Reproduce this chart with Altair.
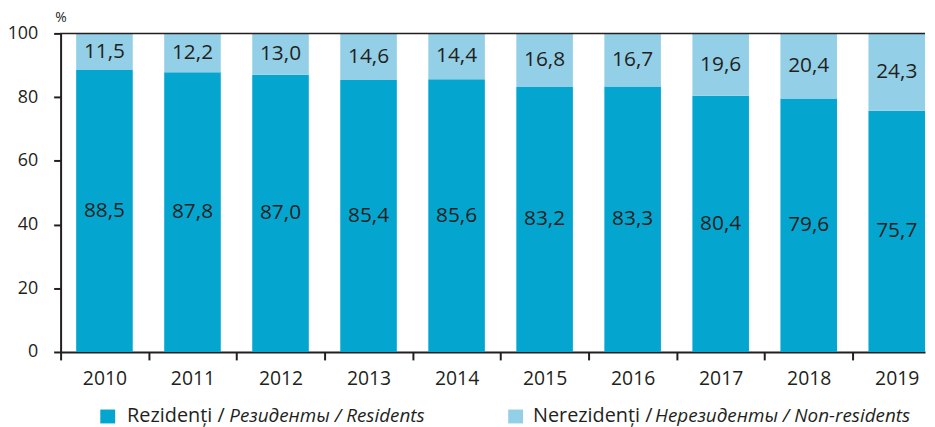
import altair as alt
import pandas as pd

years = ["2010", "2011", "2012", "2013", "2014", "2015", "2016", "2017", "2018", "2019"]
residents = [88.5, 87.8, 87.0, 85.4, 85.6, 83.2, 83.3, 80.4, 79.6, 75.7]
nonresidents = [11.5, 12.2, 13.0, 14.6, 14.4, 16.8, 16.7, 19.6, 20.4, 24.3]
series_names = ["Rezidenți", "Nerezidenți"]
colors = ["#04a6d0", "#93d0e7"]
y_ticks = [0, 20, 40, 60, 80, 100]
legend_regular = ["Rezidenți /", "Nerezidenți /"]
legend_italic = ["Резиденты / Residents", "Нерезиденты / Non-residents"]

rows = []
for i, yr in enumerate(years):
    rows.append({"year": yr, "series": series_names[0], "value": residents[i], "order": 0})
    rows.append({"year": yr, "series": series_names[1], "value": nonresidents[i], "order": 1})
df = pd.DataFrame(rows)

FONT = "Open Sans"
TXT = "#231f20"
HALF_STEP = 44.35

x_enc = alt.X(
    "year:N",
    sort=years,
    title=None,
    scale=alt.Scale(paddingInner=0.3574, paddingOuter=0.0885, align=1),
    axis=alt.Axis(
        labelAngle=0, tickOffset=-HALF_STEP, labelOffset=HALF_STEP,
        domainColor=TXT, domainWidth=2, tickColor=TXT, tickWidth=2, tickSize=8,
        labelFont=FONT, labelFontSize=19.5, labelColor=TXT, labelPadding=10,
    ),
)

y_axis = alt.Axis(
    values=y_ticks, title="%", titleAngle=0, titleX=0, titleY=-12,
    titleAlign="center", titleBaseline="alphabetic", titleFontSize=14,
    titleFontWeight="normal", titleFont=FONT, titleColor=TXT,
    tickSize=7, tickColor=TXT, tickWidth=2, domainColor=TXT, domainWidth=2,
    labelPadding=16, labelFont=FONT, labelFontSize=18, labelColor=TXT, grid=False,
)
y_scale = alt.Scale(domain=[0, 100], nice=False)

base = alt.Chart(df).transform_stack(
    stack="value", groupby=["year"], as_=["y0", "y1"],
    sort=[alt.SortField("order", order="ascending")],
).transform_calculate(
    mid="(datum.y0 + datum.y1) / 2",
    label="replace(format(datum.value, '.1f'), '.', ',')",
)

bars = base.mark_bar().encode(
    x=x_enc,
    y=alt.Y("y0:Q", scale=y_scale, axis=y_axis),
    y2="y1:Q",
    color=alt.Color("series:N", scale=alt.Scale(domain=series_names, range=colors), legend=None),
)

labels = base.mark_text(font=FONT, fontSize=21, color=TXT, baseline="middle").encode(
    x=x_enc,
    y=alt.Y("mid:Q", scale=y_scale, axis=y_axis),
    text="label:N",
)

top_rule = alt.Chart(pd.DataFrame({"v": [100]})).mark_rule(color=TXT, strokeWidth=1.5).encode(
    y=alt.Y("v:Q", scale=y_scale, axis=y_axis)
)

layers = [bars, labels, top_rule]

sq_x = [40, 451]
txt_x = [67, 476]
ital_x = [170, 599]
for i in range(2):
    layers.append(
        alt.Chart(pd.DataFrame({"s": [series_names[i]]})).mark_rect(color=colors[i]).encode(
            x=alt.value(sq_x[i]), x2=alt.value(sq_x[i] + 15),
            y=alt.value(379), y2=alt.value(393),
        )
    )
    layers.append(
        alt.Chart(pd.DataFrame({"t": [legend_regular[i]]})).mark_text(
            align="left", baseline="alphabetic", font=FONT, fontSize=20, color=TXT
        ).encode(x=alt.value(txt_x[i]), y=alt.value(392), text="t:N")
    )
    layers.append(
        alt.Chart(pd.DataFrame({"t": [legend_italic[i]]})).mark_text(
            align="left", baseline="alphabetic", font=FONT, fontSize=19, color=TXT,
            fontStyle="italic",
        ).encode(x=alt.value(ital_x[i]), y=alt.value(392), text="t:N")
    )

chart = alt.layer(*layers).properties(
    width=871, height=321,
    autosize=alt.AutoSizeParams(type="none"),
    padding={"left": 53, "top": 24, "right": 2, "bottom": 74},
).configure_view(stroke=None)

chart.save("out.html", embed_options={"renderer": "svg", "actions": False})
